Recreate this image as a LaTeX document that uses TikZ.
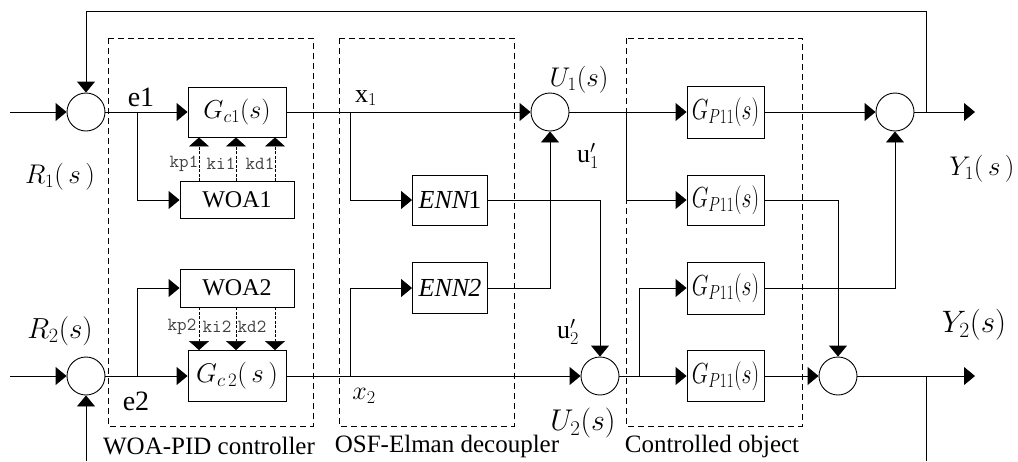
\RequirePackage{fix-cm}
\documentclass[tikz,border=0pt]{standalone}
\usepackage{fontspec}
\setmainfont{Liberation Serif}
\usetikzlibrary{arrows.meta,calc}
\tikzset{
  lw/.style={line width=0.9pt},
  sumnode/.style={circle,draw,lw,minimum size=38pt,inner sep=0pt},
  blk/.style={draw,rectangle,lw,inner sep=0pt},
  arr/.style={lw,-{Triangle[length=11pt,width=18pt]}},
  karr/.style={line width=0.6pt,dash pattern=on 3pt off 1.5pt,-{Triangle[length=9pt,width=20pt]}},
  grp/.style={draw,line width=0.9pt,dash pattern=on 6pt off 4pt},
  lbl/.style={inner sep=0pt,font=\fontsize{24}{26}\selectfont},
  klbl/.style={inner sep=0pt,text=black!75,font=\ttfamily\fontsize{18.5}{20}\selectfont},
}
\begin{document}
\begin{tikzpicture}[x=1pt,y=-1pt]
\useasboundingbox (0,0) rectangle (1018,461);
% group boxes
\draw[grp] (108,38) rectangle (313,426);
\draw[grp] (339,38) rectangle (514,426);
\draw[grp] (626,38) rectangle (802,426);
% summing junctions
\node[sumnode] (s1) at (86,112) {};
\node[sumnode] (s2) at (86,376) {};
\node[sumnode] (s3) at (550,112) {};
\node[sumnode] (s4) at (600,376) {};
\node[sumnode] (s5) at (895,112) {};
\node[sumnode] (s6) at (838,376) {};
% blocks
\node[blk,minimum width=98pt,minimum height=50pt,font=\fontsize{26}{28}\selectfont] (Gc1) at (237,112) {$G_{c1}(s)$};
\node[blk,minimum width=114pt,minimum height=37pt,font=\fontsize{24}{26}\selectfont] (WOA1) at (237,200) {WOA1};
\node[blk,minimum width=114pt,minimum height=38pt,font=\fontsize{24}{26}\selectfont] (WOA2) at (237,288) {WOA2};
\node[blk,minimum width=98pt,minimum height=51pt,font=\fontsize{27}{29}\selectfont] (Gc2) at (237,376) {$G_{c\,2}(\,s\,)$};
\node[blk,minimum width=75pt,minimum height=50pt,font=\fontsize{26}{28}\selectfont] (ENN1) at (450,200) {\textit{ENN}\kern-2pt1};
\node[blk,minimum width=75pt,minimum height=51pt,font=\fontsize{26}{28}\selectfont] (ENN2) at (450,288) {\textit{ENN}\kern-2pt\textit{2}};
\node[blk,minimum width=77pt,minimum height=52pt,font=\fontsize{29}{31}\selectfont] (Gp1) at (725.5,112) {\scalebox{0.74}[1]{$G_{P11}(s)$}};
\node[blk,minimum width=77pt,minimum height=50pt,font=\fontsize{29}{31}\selectfont] (Gp2) at (725.5,200) {\scalebox{0.74}[1]{$G_{P11}(s)$}};
\node[blk,minimum width=77pt,minimum height=52pt,font=\fontsize{29}{31}\selectfont] (Gp3) at (725.5,288) {\scalebox{0.74}[1]{$G_{P11}(s)$}};
\node[blk,minimum width=77pt,minimum height=51pt,font=\fontsize{29}{31}\selectfont] (Gp4) at (725.5,376) {\scalebox{0.74}[1]{$G_{P11}(s)$}};
% coordinates
\coordinate (in1) at (10,112);
\coordinate (in2) at (10,376);
\coordinate (je1) at (137,112);
\coordinate (je2) at (137,376);
\coordinate (jx1) at (350,112);
\coordinate (jx2) at (350,376);
\coordinate (ju1) at (626,112);
\coordinate (ju2) at (639,376);
\coordinate (jy1) at (926,112);
\coordinate (jy2) at (926,376);
\coordinate (fbtop) at (86,11);
\coordinate (fbbot1) at (86,461);
\coordinate (fbbot2) at (926,461);
\coordinate (out1) at (975,112);
\coordinate (out2) at (975,376);
\coordinate (k1) at (199,0);
\coordinate (k2) at (236,0);
\coordinate (k3) at (275,0);
% connectors row 1
\draw[arr] (in1) -- (s1.west);
\draw[arr] (s1.east) -- (Gc1.west);
\draw[arr] (je1) |- (WOA1.west);
\draw[arr] (Gc1.east) -- (s3.west);
\draw[arr] (jx1) |- (ENN1.west);
\draw[arr] (s3.east) -- (Gp1.west);
\draw[arr] (ju1) |- (Gp2.west);
\draw[arr] (Gp1.east) -- (s5.west);
\draw[arr] (s5.east) -- (out1);
\draw[arr] (jy1) |- (fbtop) -- (s1.north);
% connectors row 2
\draw[arr] (in2) -- (s2.west);
\draw[arr] (s2.east) -- (Gc2.west);
\draw[arr] (je2) |- (WOA2.west);
\draw[arr] (Gc2.east) -- (s4.west);
\draw[arr] (jx2) |- (ENN2.west);
\draw[arr] (s4.east) -- (Gp4.west);
\draw[arr] (ju2) |- (Gp3.west);
\draw[arr] (Gp4.east) -- (s6.west);
\draw[arr] (s6.east) -- (out2);
\draw[lw] (jy2) -- (fbbot2);
\draw[arr] (fbbot1) -- (s2.south);
% cross connections
\draw[arr] (ENN1.east) -| (s4.north);
\draw[arr] (ENN2.east) -| (s3.south);
\draw[arr] (Gp2.east) -| (s6.north);
\draw[arr] (Gp3.east) -| (s5.south);
% WOA parameter arrows
\draw[karr] (WOA1.north -| k1) -- (Gc1.south -| k1);
\draw[karr] (WOA1.north -| k2) -- (Gc1.south -| k2);
\draw[karr] (WOA1.north -| k3) -- (Gc1.south -| k3);
\draw[karr] (WOA2.south -| k1) -- (Gc2.north -| k1);
\draw[karr] (WOA2.south -| k2) -- (Gc2.north -| k2);
\draw[karr] (WOA2.south -| k3) -- (Gc2.north -| k3);
\node[klbl] (kp1) at (184,164) {kp1};
\node[klbl] (ki1) at (221,164) {ki1};
\node[klbl] (kd1) at (260,164) {kd1};
\node[klbl] (kp2) at (182,327) {kp2};
\node[klbl] (ki2) at (217,327) {ki2};
\node[klbl] (kd2) at (252,327) {kd2};
% labels
\node[lbl,font=\fontsize{28}{30}\selectfont] (le1) at (141,97) {e1};
\node[lbl,font=\fontsize{28}{30}\selectfont] (le2) at (136,401) {e2};
\node[lbl,font=\fontsize{27}{29}\selectfont] (lR1) at (60,177) {$R_{1}(\,s\,)$};
\node[lbl,font=\fontsize{29}{31}\selectfont] (lR2) at (60,331) {$R_{2}(s)$};
\node[lbl,font=\fontsize{26}{28}\selectfont] (lx1) at (366,98) {x$_{1}$};
\node[lbl,font=\fontsize{26}{28}\selectfont] (lx2) at (364,396) {$x_{2}$};
\node[lbl,font=\fontsize{27}{29}\selectfont] (lU1) at (579,80) {$U_{1}(s)$};
\node[lbl,font=\fontsize{30}{32}\selectfont] (lU2) at (583,423) {$U_{2}(s)$};
\node[lbl,font=\fontsize{26}{28}\selectfont] (lu1) at (588,156) {u$'_{1}$};
\node[lbl,font=\fontsize{26}{28}\selectfont] (lu2) at (568,332) {u$'_{2}$};
\node[lbl,font=\fontsize{27}{29}\selectfont] (lY1) at (982,169) {$Y_{1}(\,s\,)$};
\node[lbl,font=\fontsize{31}{33}\selectfont] (lY2) at (974,325) {$Y_{2}(s)$};
\node[lbl,font=\fontsize{25}{27}\selectfont] (g1) at (209,446) {WOA-PID controller};
\node[lbl,font=\fontsize{25}{27}\selectfont] (g2) at (447,446) {OSF-Elman decoupler};
\node[lbl,font=\fontsize{25}{27}\selectfont] (g3) at (712,446) {Controlled object};
\end{tikzpicture}
\end{document}
